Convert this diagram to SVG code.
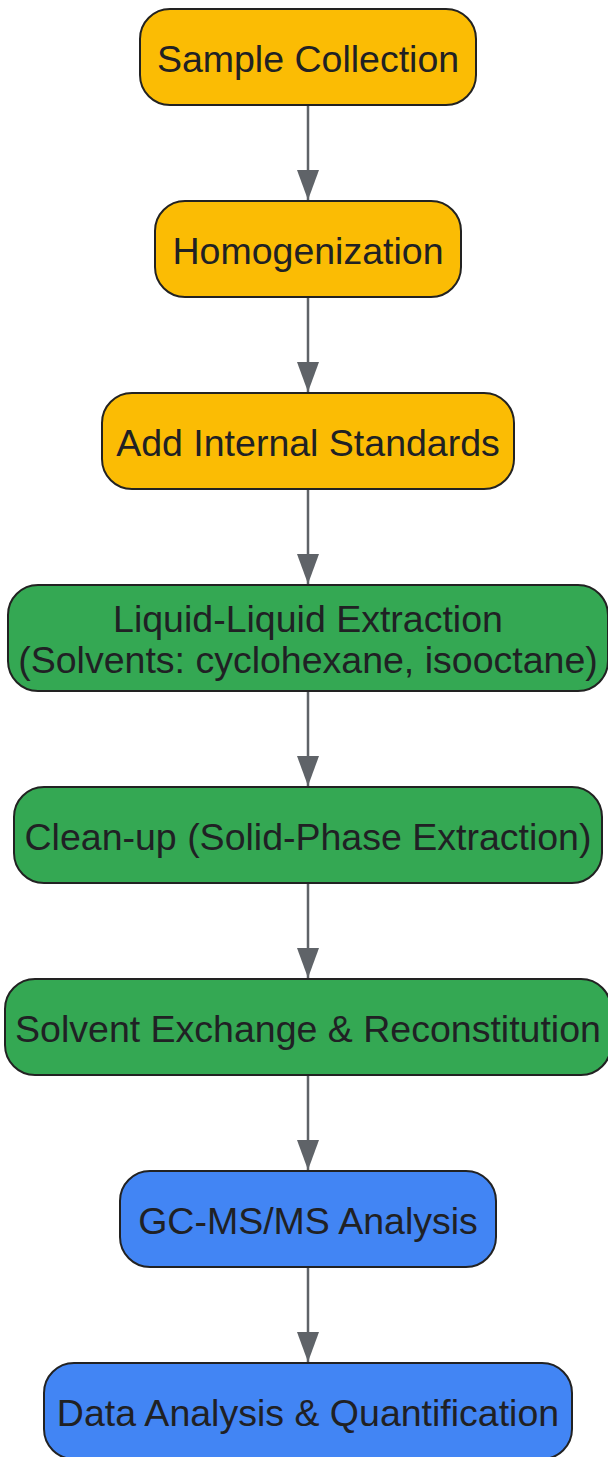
<svg xmlns="http://www.w3.org/2000/svg" width="608" height="1457" viewBox="0 0 608 1457">
<defs>
<style>
.n rect{stroke:#222;stroke-width:2}
.y rect{fill:#FBBC04}
.g rect{fill:#34A853}
.b rect{fill:#4285F4}
text{font-family:"Liberation Sans",Arial,sans-serif;font-size:37.5px;fill:#202124;text-anchor:middle}
</style>
<marker id="ah" markerWidth="30" markerHeight="22" refX="30" refY="11" orient="auto" markerUnits="userSpaceOnUse" viewBox="0 0 30 22">
<path d="M0,0 L30,11 L0,22 Z" fill="#5F6368"/>
</marker>
</defs>
<rect width="608" height="1457" fill="#fff"/>
<g id="edges" stroke="#5F6368" stroke-width="2.5" fill="none">
<line x1="308" y1="105" x2="308" y2="200" marker-end="url(#ah)"/>
<line x1="308" y1="297" x2="308" y2="392" marker-end="url(#ah)"/>
<line x1="308" y1="489" x2="308" y2="584" marker-end="url(#ah)"/>
<line x1="308" y1="691" x2="308" y2="786" marker-end="url(#ah)"/>
<line x1="308" y1="883" x2="308" y2="978" marker-end="url(#ah)"/>
<line x1="308" y1="1075" x2="308" y2="1170" marker-end="url(#ah)"/>
<line x1="308" y1="1267" x2="308" y2="1362" marker-end="url(#ah)"/>
</g>
<g id="n1" class="n y"><rect x="140" y="9" width="336" height="96" rx="30"/><text x="308" y="72">Sample Collection</text></g>
<g id="n2" class="n y"><rect x="155" y="201" width="306" height="96" rx="30"/><text x="308" y="264">Homogenization</text></g>
<g id="n3" class="n y"><rect x="102" y="393" width="412" height="96" rx="30"/><text x="308" y="456">Add Internal Standards</text></g>
<g id="n4" class="n g"><rect x="8" y="585" width="600" height="106" rx="30"/><text x="308" y="632">Liquid-Liquid Extraction</text><text x="308" y="673">(Solvents: cyclohexane, isooctane)</text></g>
<g id="n5" class="n g"><rect x="14" y="787" width="588" height="96" rx="30"/><text x="308" y="850">Clean-up (Solid-Phase Extraction)</text></g>
<g id="n6" class="n g"><rect x="5" y="979" width="606" height="96" rx="30"/><text x="308" y="1042">Solvent Exchange &amp; Reconstitution</text></g>
<g id="n7" class="n b"><rect x="120" y="1171" width="376" height="96" rx="30"/><text x="308" y="1234">GC-MS/MS Analysis</text></g>
<g id="n8" class="n b"><rect x="44" y="1363" width="528" height="96" rx="30"/><text x="308" y="1426">Data Analysis &amp; Quantification</text></g>
</svg>
